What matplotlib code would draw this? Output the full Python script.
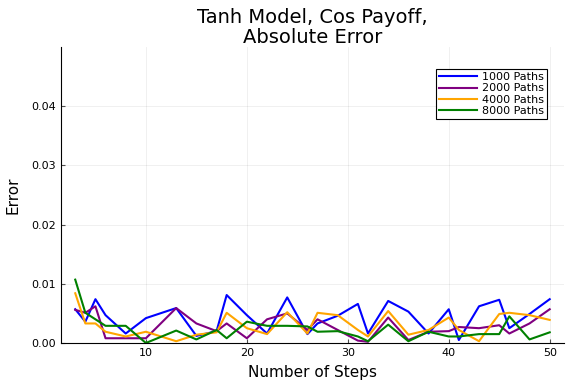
""" Absolute error of the tanh model on the cos payoff,
    for different numbers of simulated paths """

import matplotlib
matplotlib.use('Agg')
import matplotlib.pyplot as plt

steps = [3, 4, 5, 6, 8, 10, 13, 15, 17, 18, 20, 22, 24, 26, 27, 29,
         31, 32, 34, 36, 38, 40, 41, 43, 45, 46, 48, 50]

err_1000 = [0.0057, 0.0036, 0.0074, 0.0047, 0.0016, 0.0042, 0.0059, 0.0012,
            0.0020, 0.0081, 0.0047, 0.0016, 0.0077, 0.0015, 0.0033, 0.0046,
            0.0066, 0.0016, 0.0071, 0.0053, 0.0016, 0.0057, 0.0005, 0.0062,
            0.0073, 0.0025, 0.0049, 0.0074]
err_2000 = [0.0056, 0.0051, 0.0062, 0.0008, 0.0008, 0.0008, 0.0059, 0.0033,
            0.0020, 0.0033, 0.0008, 0.0040, 0.0050, 0.0022, 0.0040, 0.0022,
            0.0004, 0.0002, 0.0043, 0.0005, 0.0019, 0.0020, 0.0027, 0.0025,
            0.0030, 0.0016, 0.0033, 0.0057]
err_4000 = [0.0084, 0.0033, 0.0033, 0.0019, 0.0011, 0.0019, 0.0003, 0.0014,
            0.0018, 0.0051, 0.0025, 0.0015, 0.0052, 0.0016, 0.0051, 0.0047,
            0.0022, 0.0011, 0.0054, 0.0014, 0.0022, 0.0043, 0.0022, 0.0003,
            0.0049, 0.0051, 0.0047, 0.0039]
err_8000 = [0.0107, 0.0051, 0.0040, 0.0029, 0.0029, 0.0000, 0.0021, 0.0006,
            0.0022, 0.0008, 0.0036, 0.0029, 0.0029, 0.0028, 0.0019, 0.0020,
            0.0011, 0.0003, 0.0031, 0.0003, 0.0019, 0.0011, 0.0011, 0.0015,
            0.0015, 0.0045, 0.0006, 0.0018]

labels = ['1000 Paths', '2000 Paths', '4000 Paths', '8000 Paths']
colors = ['blue', 'purple', 'orange', 'green']
x_ticks = [10, 20, 30, 40, 50]
y_ticks = [0.0, 0.01, 0.02, 0.03, 0.04]

plt.rcParams['font.family'] = ['DejaVu Sans']

fig = plt.figure(figsize=(5.67, 3.84), dpi=100)
ax = fig.add_axes([0.1076, 0.1068, 0.887, 0.7708])

for ys, color, label in zip([err_1000, err_2000, err_4000, err_8000], colors, labels):
    ax.plot(steps, ys, color=color, lw=1.5, label=label)

ax.set_xlim(1.59, 51.41)
ax.set_ylim(0, 0.05)
ax.set_xticks(x_ticks)
ax.set_yticks(y_ticks)
ax.set_yticklabels(['%.2f' % v for v in y_ticks])
ax.tick_params(direction='in', labelsize=8, length=3, color='0.3')
ax.grid(True, color='black', alpha=0.07, lw=0.6)
for side in ['top', 'right']:
    ax.spines[side].set_visible(False)

ax.set_xlabel('Number of Steps', fontsize=11, labelpad=5)
ax.set_ylabel('Error', fontsize=11, labelpad=8)
ax.set_title('Tanh Model, Cos Payoff,\nAbsolute Error', fontsize=14,
             pad=-3, linespacing=1.1)

leg = ax.legend(loc='upper right', bbox_to_anchor=(547 / 567, 1 - 69 / 384),
                bbox_transform=fig.transFigure, fontsize=8, frameon=True,
                fancybox=False, framealpha=1, edgecolor='black',
                handlelength=3.4, borderpad=0.3, labelspacing=0.1,
                handletextpad=0.4, borderaxespad=0)
leg.get_frame().set_linewidth(0.8)

plt.savefig('out.png', dpi=100)
